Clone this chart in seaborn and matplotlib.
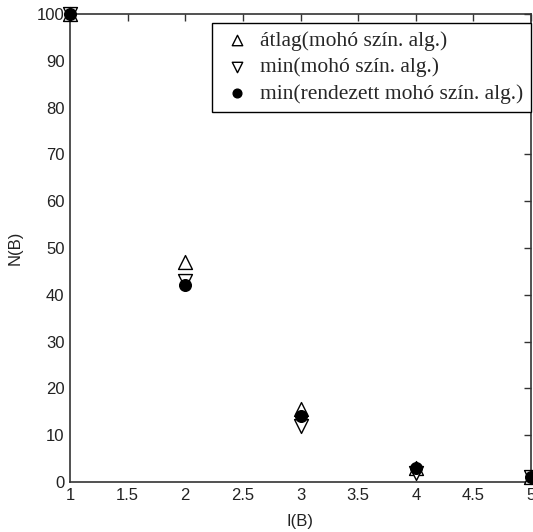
import matplotlib
matplotlib.use("Agg")
import matplotlib.pyplot as plt
import seaborn as sns
import pandas as pd

x_vals = [1, 2, 3, 4, 5]
atlag_moho = [100, 47, 15.6, 3, 1]
min_moho = [100, 43, 12, 2, 1]
min_rendezett = [100, 42, 14, 3, 1]
labels = ["átlag(mohó szín. alg.)", "min(mohó szín. alg.)", "min(rendezett mohó szín. alg.)"]
x_ticks = [1, 1.5, 2, 2.5, 3, 3.5, 4, 4.5, 5]
y_ticks = list(range(0, 101, 10))

sns.set_style("white")
plt.rcParams['font.family'] = ['Liberation Sans', 'DejaVu Sans']

fig = plt.figure(figsize=(5.33, 5.32), dpi=100)
ax = fig.add_axes([70/533, 50/532, 461/533, 468/532])

df1 = pd.DataFrame({"x": x_vals, "y": atlag_moho})
df2 = pd.DataFrame({"x": x_vals, "y": min_moho})
df3 = pd.DataFrame({"x": x_vals, "y": min_rendezett})

sns.scatterplot(data=df1, x="x", y="y", marker="^", s=100, facecolor="white",
                edgecolor="black", linewidth=1.0, ax=ax, label=labels[0], clip_on=False, zorder=3)
sns.scatterplot(data=df2, x="x", y="y", marker="v", s=100, facecolor="white",
                edgecolor="black", linewidth=1.0, ax=ax, label=labels[1], clip_on=False, zorder=4)
sns.scatterplot(data=df3, x="x", y="y", marker="o", s=70, facecolor="black",
                edgecolor="black", linewidth=1.0, ax=ax, label=labels[2], clip_on=False, zorder=5)

ax.set_xlim(1, 5)
ax.set_ylim(0, 100)
ax.set_xticks(x_ticks)
ax.set_xticklabels([f"{t:g}" for t in x_ticks])
ax.set_yticks(y_ticks)
ax.tick_params(direction="in", length=5, width=1, top=True, right=True,
               labelsize=12, labelcolor="#222222", color="#333333", pad=4)
for s in ax.spines.values():
    s.set_color("#333333")
    s.set_linewidth(1.2)

ax.set_xlabel("I(B)", fontsize=12, color="#222222", labelpad=8)
ax.set_ylabel("N(B)", fontsize=12, color="#222222", labelpad=10)

leg = ax.legend(loc="upper right", bbox_to_anchor=(1.0, 0.98), frameon=True, fancybox=False,
                edgecolor="black", framealpha=1, handletextpad=0.3, handlelength=1.6,
                borderaxespad=0, borderpad=0.35, labelspacing=0.3, markerscale=0.75,
                prop={"family": ["Liberation Serif", "DejaVu Serif"], "size": 15.5})
leg.get_frame().set_linewidth(1.0)

fig.savefig("out.png", dpi=100)
